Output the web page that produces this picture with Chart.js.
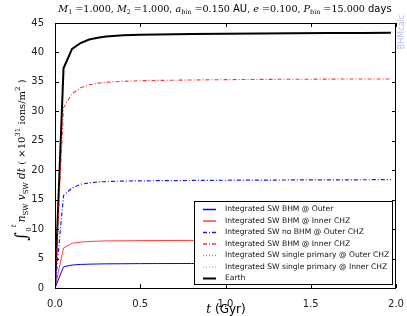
<!DOCTYPE html>
<html>
<head>
<meta charset="utf-8">
<script src="https://cdn.jsdelivr.net/npm/chart.js@4"></script>
<style>
  html, body { margin: 0; padding: 0; background: #fff; }
  #wrap { width: 407px; height: 316px; }
</style>
</head>
<body>
<div id="wrap"><canvas id="myChart" width="407" height="316"></canvas></div>
<script>
// time axis (Gyr)
var times = [0, 0.05, 0.1, 0.15, 0.2, 0.25, 0.3, 0.4, 0.5, 0.6, 0.8, 1.0, 1.2, 1.4, 1.6, 1.8, 1.97];

var swBhmOuter   = [0, 3.6, 3.9, 4.0, 4.05, 4.08, 4.1, 4.12, 4.14, 4.15, 4.16, 4.17, 4.18, 4.19, 4.2, 4.2, 4.2];
var swBhmInner   = [0, 6.8, 7.6, 7.8, 7.9, 7.95, 8.0, 8.02, 8.05, 8.06, 8.08, 8.1, 8.1, 8.1, 8.12, 8.12, 8.12];
var swNoBhmOuter = [0, 15.7, 17.0, 17.6, 17.85, 18.0, 18.08, 18.15, 18.2, 18.22, 18.26, 18.3, 18.32, 18.35, 18.36, 18.38, 18.4];
var swBhmInnerDD = [0, 30.6, 33.0, 34.0, 34.5, 34.75, 34.95, 35.1, 35.2, 35.25, 35.32, 35.38, 35.42, 35.45, 35.47, 35.5, 35.5];
var swSingleOuter = [];
var swSingleInner = [];
var earth        = [0, 37.3, 40.6, 41.6, 42.2, 42.5, 42.7, 42.9, 43.0, 43.05, 43.12, 43.18, 43.22, 43.26, 43.3, 43.32, 43.35];

var xTicks = [0, 0.5, 1.0, 1.5, 2.0];
var yTicks = [0, 5, 10, 15, 20, 25, 30, 35, 40, 45];

function pts(arr) {
    return arr.map(function (v, i) { return {x: times[i], y: v}; });
}

var datasets = [
    {label: 'Integrated SW BHM @ Outer', data: pts(swBhmOuter), borderColor: '#0000ff', borderWidth: 1},
    {label: 'Integrated SW BHM @ Inner CHZ', data: pts(swBhmInner), borderColor: 'rgba(255,0,0,0.75)', borderWidth: 1},
    {label: 'Integrated SW no BHM @ Outer CHZ', data: pts(swNoBhmOuter), borderColor: 'rgba(0,0,255,0.9)', borderWidth: 1.2, borderDash: [4, 2, 1, 2]},
    {label: 'Integrated SW BHM @ Inner CHZ', data: pts(swBhmInnerDD), borderColor: 'rgba(255,0,0,0.8)', borderWidth: 1.1, borderDash: [4, 2, 1, 2]},
    {label: 'Integrated SW single primary @ Outer CHZ', data: pts(swSingleOuter), borderColor: 'rgba(0,0,255,0.5)', borderWidth: 1, borderDash: [1, 2]},
    {label: 'Integrated SW single primary @ Inner CHZ', data: pts(swSingleInner), borderColor: 'rgba(255,0,0,0.4)', borderWidth: 1, borderDash: [1, 2]},
    {label: 'Earth', data: pts(earth), borderColor: '#000000', borderWidth: 2}
];

function drawRich(ctx, parts, x, y) {
    var total = 0;
    parts.forEach(function (p) { ctx.font = p.f; total += ctx.measureText(p.t).width; });
    var cx = x - total / 2;
    parts.forEach(function (p) {
        ctx.font = p.f;
        ctx.fillText(p.t, cx, y + (p.dy || 0));
        cx += ctx.measureText(p.t).width;
    });
}

var decorations = {
    id: 'decorations',
    afterDraw: function (chart) {
        var ctx = chart.ctx;
        var a = chart.chartArea;
        var xs = chart.scales.x, ys = chart.scales.y;
        ctx.save();
        // frame
        ctx.strokeStyle = '#000';
        ctx.lineWidth = 1;
        ctx.strokeRect(Math.round(a.left) + 0.5, Math.round(a.top) + 0.5, Math.round(a.right - a.left) - 1, Math.round(a.bottom - a.top));
        // inward ticks
        ctx.beginPath();
        xTicks.forEach(function (v) {
            var px = Math.round(xs.getPixelForValue(v)) + 0.5;
            ctx.moveTo(px, a.bottom); ctx.lineTo(px, a.bottom - 4);
            ctx.moveTo(px, a.top); ctx.lineTo(px, a.top + 4);
        });
        yTicks.forEach(function (v) {
            var py = Math.round(ys.getPixelForValue(v)) + 0.5;
            ctx.moveTo(a.left, py); ctx.lineTo(a.left + 4, py);
            ctx.moveTo(a.right, py); ctx.lineTo(a.right - 4, py);
        });
        ctx.stroke();

        ctx.fillStyle = '#000';
        ctx.textBaseline = 'alphabetic';
        ctx.textAlign = 'left';
        // title
        var ser = '9.6px "DejaVu Serif"', serI = 'italic 9.6px "DejaVu Serif"', sub = '6.4px "DejaVu Serif"', sans = '10px "DejaVu Sans"';
        drawRich(ctx, [
            {t: 'M', f: serI}, {t: '1', f: sub, dy: 2}, {t: ' =1.000, ', f: ser},
            {t: 'M', f: serI}, {t: '2', f: sub, dy: 2}, {t: ' =1.000, ', f: ser},
            {t: 'a', f: serI}, {t: 'bin', f: sub, dy: 2}, {t: ' =0.150 ', f: ser}, {t: 'AU', f: sans}, {t: ', ', f: ser},
            {t: 'e', f: serI}, {t: ' =0.100, ', f: ser},
            {t: 'P', f: serI}, {t: 'bin', f: sub, dy: 2}, {t: ' =15.000 ', f: ser}, {t: 'days', f: sans}
        ], 225, 12);

        // x label
        drawRich(ctx, [{t: 't', f: 'italic 12px "DejaVu Serif"'}, {t: ' (Gyr)', f: '12px "DejaVu Sans"'}], 226, 313);

        // y label
        ctx.save();
        ctx.translate(25, 160);
        ctx.rotate(-Math.PI / 2);
        var yl = 'italic 10.5px "DejaVu Serif"', yr = '10px "DejaVu Serif"', ys8 = '7px "DejaVu Serif"';
        drawRich(ctx, [
            {t: '\u222B', f: '17px "DejaVu Serif"', dy: 2}, {t: '0', f: ys8, dy: 6}, {t: 't ', f: 'italic 7px "DejaVu Serif"', dy: -9},
            {t: 'n', f: yl}, {t: 'SW', f: ys8, dy: 3}, {t: ' v', f: yl}, {t: 'SW', f: ys8, dy: 3}, {t: ' dt', f: yl},
            {t: ' ( \u00D710', f: yr}, {t: '31', f: ys8, dy: -5}, {t: ' ions/m', f: yr}, {t: '2', f: ys8, dy: -5}, {t: ' )', f: yr}
        ], 0, 0);
        ctx.restore();

        // watermark
        ctx.save();
        ctx.translate(404, 32);
        ctx.rotate(-Math.PI / 2);
        ctx.fillStyle = '#b4bcf4';
        ctx.font = '8px "DejaVu Sans"';
        ctx.textAlign = 'center';
        ctx.fillText('BHMcalc', 0, 0);
        ctx.restore();

        // legend box
        var lx = 194.5, ly = 201.5, lw = 198, lh = 83;
        ctx.fillStyle = '#fff';
        ctx.fillRect(lx, ly, lw, lh);
        ctx.strokeStyle = '#000';
        ctx.lineWidth = 1;
        ctx.setLineDash([]);
        ctx.strokeRect(lx, ly, lw, lh);
        ctx.font = '7.6px "DejaVu Sans"';
        ctx.textBaseline = 'middle';
        chart.data.datasets.forEach(function (ds, i) {
            var yy = 209.5 + i * 11.5;
            ctx.beginPath();
            ctx.strokeStyle = ds.borderColor;
            ctx.lineWidth = Math.max(1.5, ds.borderWidth);
            ctx.setLineDash(ds.borderDash || []);
            ctx.moveTo(203, yy); ctx.lineTo(216, yy);
            ctx.stroke();
            ctx.setLineDash([]);
            ctx.fillStyle = '#111';
            ctx.fillText(ds.label, 225, yy);
        });
        ctx.restore();
    }
};

var ctx1 = document.getElementById('myChart').getContext('2d');
var myChart = new Chart(ctx1, {
    type: 'line',
    data: {datasets: datasets},
    options: {
        responsive: false,
        animation: false,
        layout: {padding: {left: 0, right: 11, top: 23, bottom: 0}},
        elements: {point: {radius: 0}, line: {tension: 0, fill: false}},
        plugins: {legend: {display: false}, tooltip: {enabled: false}, title: {display: false}},
        scales: {
            x: {
                type: 'linear', min: 0, max: 2,
                grid: {display: false}, border: {display: false},
                afterFit: function (s) { s.height = 28; },
                afterBuildTicks: function (s) { s.ticks = xTicks.map(function (v) { return {value: v}; }); },
                ticks: {color: '#222', padding: 2, font: {family: 'DejaVu Sans', size: 10},
                        callback: function (v) { return Number(v).toFixed(1); }, maxRotation: 0}
            },
            y: {
                min: 0, max: 45,
                grid: {display: false}, border: {display: false},
                afterFit: function (s) { s.width = 55; },
                afterBuildTicks: function (s) { s.ticks = yTicks.map(function (v) { return {value: v}; }); },
                ticks: {color: '#222', padding: 3, font: {family: 'DejaVu Sans', size: 10}}
            }
        }
    },
    plugins: [decorations]
});
</script>
</body>
</html>
